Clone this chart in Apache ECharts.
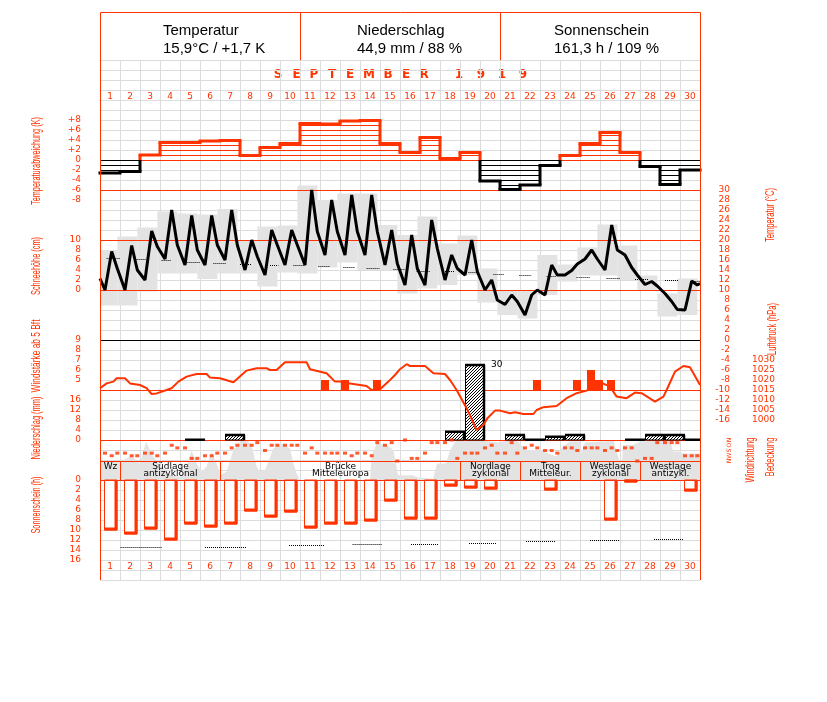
<!DOCTYPE html>
<html><head><meta charset="utf-8"><title>September 1919</title>
<script src="https://cdn.jsdelivr.net/npm/echarts@6.0.0/dist/echarts.min.js"></script>
<style>html,body{margin:0;padding:0;background:#fff;}#chart{width:827px;height:702px;}</style>
</head><body><div id="chart"></div>
<script>
// ================= DATA =================
const days = ['1','2','3','4','5','6','7','8','9','10','11','12','13','14','15','16','17','18','19','20','21','22','23','24','25','26','27','28','29','30'];
const headerTitles = ['Temperatur', 'Niederschlag', 'Sonnenschein'];
const headerValues = ['15,9°C / +1,7 K', '44,9 mm / 88 %', '161,3 h / 109 %'];
const monthTitle = ['S','E','P','T','E','M','B','E','R','1','9','1','9'];
// daily temperature anomaly (K)
const tempAnomaly = [-2.6,-2.3,1.0,3.5,3.5,3.8,3.9,0.9,2.5,3.3,7.3,7.2,7.8,7.9,3.3,1.5,4.5,0.3,1.5,-4.2,-5.9,-5.0,-1.1,0.9,3.3,5.5,1.5,-1.3,-4.9,-2.0];
// temperature at the three observation times of each day (°C)
const tempObs = [
 10.0,17.7,14.3, 10.0,18.9,14.0, 12.0,21.8,18.7, 16.2,26.0,19.0, 15.0,24.9,18.0,
 15.0,24.9,19.0, 16.0,26.0,19.0, 14.0,20.0,16.7, 13.0,22.0,19.0, 15.0,22.0,19.0,
 15.0,30.0,21.7, 17.0,28.0,21.7, 17.0,29.0,21.7, 17.0,29.0,21.7, 15.0,22.0,15.3,
 11.0,21.0,14.3, 11.0,24.0,18.3, 12.0,17.0,14.3, 13.0,20.0,13.7, 10.0,12.0,8.0,
 7.1,9.0,7.7, 5.0,9.0,10.0, 9.0,15.0,13.0, 13.0,13.9,15.2, 16.2,18.0,16.2,
 14.0,23.0,18.0, 17.0,14.5,13.0, 11.1,11.7,10.8, 9.3,7.7,6.1, 6.0,11.8,11.0];
const tempStart = 12.3, tempEnd = 11.3;
const tempMax = [18.0,20.7,22.5,25.7,25.3,25.1,26.2,20.0,22.7,22.9,30.9,28.0,29.3,29.3,23.0,21.0,24.7,19.3,20.9,14.3,9.8,9.8,17.0,15.1,18.5,23.1,18.9,12.9,9.3,12.3];
const tempMin = [6.9,6.9,9.7,13.3,13.3,12.2,13.3,13.3,10.7,13.5,13.3,14.5,15.5,14.0,14.0,9.3,10.3,11.0,13.0,7.5,5.0,4.3,9.0,11.7,12.9,12.9,12.0,10.0,4.7,5.0];
// normal temperature (start day, end day, °C)
const tempNormalSeg = [[0.33,1.0,16.5],[1.83,2.33,16.2],[3.08,3.58,16.0],[4.33,5.0,15.7],[5.67,6.3,15.5],[7.0,7.58,15.3],[8.5,8.92,15.1],[9.67,10.25,15.0],[10.92,11.5,14.8],[12.17,12.75,14.6],[13.33,13.97,14.4],[14.67,15.25,14.2],[15.83,16.5,13.9],[17.25,17.75,13.8],[18.42,18.92,13.6],[19.67,20.2,13.3],[20.97,21.58,13.1],[22.33,22.83,12.9],[23.83,24.5,12.7],[25.33,26.0,12.5],[26.75,27.42,12.3],[28.25,28.92,12.1],[29.67,30.0,11.9]];
// air pressure (hPa)
const pressureT = [0,0.33,0.67,0.83,1.25,1.5,2.0,2.33,2.58,2.83,3.33,3.58,3.92,4.33,4.83,5.33,5.5,6.0,6.67,7.33,7.83,8.33,8.5,8.83,9.25,10.33,10.5,11.33,11.75,12.0,12.42,13.33,13.58,14.0,14.42,14.75,15.0,15.33,15.5,16.25,16.67,17.25,17.5,17.83,18.33,18.83,19.17,19.37,19.75,20.0,20.5,20.75,21.17,21.67,21.83,22.17,22.83,23.33,23.83,24.33,25.0,25.5,25.83,26.33,26.75,27.08,27.75,28.17,28.33,28.75,29.17,29.5,30.0];
const pressureV = [1015.9,1018.3,1019.2,1020.9,1020.9,1018.3,1017.5,1015.9,1013.0,1013.3,1015.0,1015.9,1019.2,1021.7,1023.0,1023.0,1021.2,1020.9,1018.9,1024.7,1025.9,1025.9,1025.0,1025.0,1028.9,1028.9,1025.4,1023.4,1019.2,1019.2,1018.4,1017.0,1015.0,1015.4,1019.2,1022.5,1025.4,1027.9,1027.0,1027.0,1023.4,1023.0,1020.0,1015.0,1005.9,995.0,997.5,1000.9,1004.7,1004.7,1003.4,1003.9,1003.0,1003.0,1005.0,1006.4,1007.0,1010.9,1013.4,1014.7,1018.9,1016.7,1011.7,1010.9,1013.7,1013.4,1009.2,1011.7,1015.0,1024.2,1027.0,1026.4,1017.5];
// wind force >= 5 Bft (time, Bft)
const windForceT = [11.25,12.25,13.85,21.85,23.85,24.55,24.95,25.55];
const windForceV = [5,5,5,5,5,6,5,5];
// precipitation (mm, 7h to 7h)
const precipitation = [0,0,0,0,0.1,0,2.0,0,0,0,0,0,0,0,0,0,0,3.3,30,0,2.0,0.1,1.3,2.0,0,0,0.1,2.0,2.0,0.1];
// wind direction (degrees) at the three observation times
const windDirection = [
 225,270,225, 225,270,270, 225,225,270, 225,90,135, 135,315,315,
 270,270,225, 225,135,90, 90,90,45, 180,90,90, 90,90,90,
 225,135,225, 225,225,225, 225,270,225, 225,270,45, 90,45,360,
 0,315,315, 225,45,45, 45,0,315, 225,225,225, 135,90,225,
 225,45,225, 135,90,135, 180,180,225, 135,135,180, 135,135,135,
 180,135,180, 135,135,360, 315,315,45, 45,45,45, 270,270,270];
const windDirLabels = ['N','O','S','W','N'];
// cloud cover (octas)
const cloudT = [0,1.0,1.58,2.0,2.3,2.65,3.08,3.58,4.0,4.33,4.58,4.83,5.08,5.33,5.58,5.83,6.03,6.33,6.67,7.08,7.33,7.58,7.83,8.0,8.25,8.67,9.08,9.5,9.67,9.83,10.0,13.5,13.58,13.83,14.33,14.67,14.9,15.0,15.3,15.6,15.9,16.5,16.65,16.85,17.3,17.5,17.75,18.0,19.0,19.9,20.0,20.5,20.8,21.0,21.3,22.0,22.15,22.83,23.15,23.5,24.0,24.08,24.25,25.0,25.33,25.67,26.0,26.08,26.15,26.65,27.0,28.5,28.65,29.0,29.15,30];
const cloudV = [3.7,3.7,4.8,3.3,7.7,4.7,2.7,0.8,0.7,2.7,5.9,3.3,1.7,2.7,5.7,3.3,1.0,1.7,6.0,8.0,8.0,7.0,2.7,1.7,2.0,6.3,7.3,6.3,3.3,1.3,0,0,4.7,7.3,7.0,6.0,1.0,0.7,0.9,1.0,0.5,0.3,0.2,3.3,3.3,5.9,7.7,8,8,7.5,7.3,8,8,7.3,6,6,5.7,4.7,6.7,7.7,7.7,5.3,7.5,7.7,7.7,8,3.3,2.0,7,7,7.7,8,5.7,5.7,5.3,5.3];
// sunshine duration (h)
const sunshine = [9.9,10.8,9.8,11.9,8.8,9.4,8.8,6.1,7.4,6.3,9.6,8.8,8.8,8.1,4.2,7.8,7.8,1.1,1.6,1.8,0,0,2.0,0,0,7.9,0.4,0,0,2.2];
const sunNormalSeg = [[1.03,3.08,13.4],[5.25,7.3,13.4],[9.45,11.2,13.0],[12.63,14.1,12.8],[15.55,16.9,12.7],[18.45,19.8,12.5],[21.3,22.8,12.1],[24.5,26.0,12.0],[27.7,29.2,11.8]];
// weather types (first day, last day, text)
const weatherTypes = [[1,1,'Wz',''],[2,6,'Südlage','antizyklonal'],[7,18,'Brücke','Mitteleuropa'],[19,21,'Nordlage','zyklonal'],[22,24,'Trog','Mitteleur.'],[25,27,'Westlage','zyklonal'],[28,30,'Westlage','antizykl.']];

// ================= STYLE =================
const RED = '#ff3300', BLACK = '#000000', GRIDC = '#dcdcdc', SHADE = '#e3e3e3';
const NUMFONT = '"DejaVu Sans", Verdana, sans-serif';
const obsFrac = [0.25, 0.585, 0.865];

const chart = echarts.init(document.getElementById('chart'), null, {renderer: 'canvas'});

const grids = [
  {top: 60, height: 520},  // 0 background grid
  {top: 110, height: 90},  // 1 anomaly
  {top: 190, height: 250}, // 2 temperature / snow / pressure
  {top: 340, height: 100}, // 3 precipitation / wind force
  {top: 440, height: 21},  // 4 wind direction
  {top: 440, height: 40},  // 5 cloud cover
  {top: 480, height: 100}, // 6 sunshine
  {top: 85, height: 5},    // 7 top day labels
  {top: 555, height: 5},   // 8 bottom day labels
  {top: 461, height: 19}   // 9 weather types
].map(g => Object.assign({left: 100, width: 600}, g));

const xAxis = grids.map((g, i) => ({type: 'value', gridIndex: i, min: 0, max: 30, show: false}));
xAxis[0] = {type: 'value', gridIndex: 0, min: 0, max: 30, interval: 1, axisLine: {show: false}, axisTick: {show: false}, axisLabel: {show: false}, splitLine: {show: true, lineStyle: {color: GRIDC, width: 1}}};
const dayAxis = gi => ({type: 'category', gridIndex: gi, data: days, boundaryGap: true, axisLine: {show: false}, axisTick: {show: false}, splitLine: {show: false}, axisLabel: {interval: 0, color: RED, fontSize: 9, fontFamily: NUMFONT, margin: 2}});
xAxis[7] = dayAxis(7);
xAxis[8] = dayAxis(8);

function yA(gi, pos, min, max, interval, fmt, extra, lab) {
  return Object.assign({type: 'value', gridIndex: gi, position: pos, min, max, interval,
    axisLine: {show: false}, axisTick: {show: false}, splitLine: {show: false},
    axisLabel: Object.assign({show: !!fmt, formatter: fmt, color: RED, fontSize: 9, fontFamily: NUMFONT, margin: 19, showMinLabel: true, showMaxLabel: true}, lab || {})}, extra || {});
}
const yAxis = [
  Object.assign(yA(0, 'left', 0, 52, 1, null), {splitLine: {show: true, lineStyle: {color: GRIDC, width: 1}}}), // 0
  yA(1, 'left', -8, 10, 2, v => (v >= -8 && v <= 8) ? (v > 0 ? '+' + v : String(v)) : ''),              // 1 anomaly
  yA(2, 'right', -20, 30, 2, v => v >= -16 ? String(v) : '', null, {align: 'right', margin: 30}),       // 2 temperature
  yA(2, 'left', -30, 20, 2, v => (v >= 0 && v <= 10) ? String(v) : ''),                                 // 3 snow
  yA(2, 'right', 990, 1115, 5, v => (v >= 1000 && v <= 1030) ? String(v) : '', null, {align: 'right', margin: 75}), // 4 pressure
  yA(3, 'left', 0, 40, 4, v => v <= 16 ? String(v) : ''),                                                // 5 precipitation
  yA(3, 'left', -1, 9, 1, v => v >= 5 ? String(v) : ''),                                                 // 6 wind force
  yA(4, 'right', 0, 360, 90, v => windDirLabels[Math.round(v / 90)], {inverse: true}, {fontSize: 6, margin: 26, rotate: 90}), // 7 wind dir
  yA(5, 'left', 0, 8, 1, null),                                                                          // 8 cloud
  yA(6, 'left', 0, 20, 2, v => v <= 16 ? String(v) : '', {inverse: true}),                               // 9 sunshine
  yA(7, 'left', 0, 1, 1, null),                                                                          // 10
  yA(8, 'left', 0, 1, 1, null),                                                                          // 11
  yA(9, 'left', 0, 1, 1, null)                                                                           // 12 weather row
];

const series = [];
function refLines(xi, yi, vals, colors) {
  series.push({type: 'custom', xAxisIndex: xi, yAxisIndex: yi, z: 4, silent: true,
    data: vals.map(v => [0, v]),
    renderItem: (p, api) => {
      const cs = p.coordSys;
      const y = Math.round(api.coord([0, api.value(1)])[1]) + 0.5;
      return {type: 'line', shape: {x1: cs.x, y1: y, x2: cs.x + cs.width, y2: y}, style: {stroke: colors[p.dataIndex], lineWidth: 1}};
    }});
}

// --- anomaly
series.push({type: 'custom', xAxisIndex: 1, yAxisIndex: 1, z: 5, silent: true,
  data: tempAnomaly.map((v, i) => [i, v]),
  renderItem: (p, api) => {
    const i = api.value(0), v = api.value(1);
    const pv = p.dataIndex > 0 ? tempAnomaly[p.dataIndex - 1] : v;
    const x0 = api.coord([i, 0])[0], x1 = api.coord([i + 1, 0])[0];
    const Y = val => api.coord([i, val])[1];
    const col = v >= 0 ? RED : BLACK;
    const ch = [];
    const n = Math.floor(Math.abs(v));
    const sg = v >= 0 ? 1 : -1;
    for (let k = 0; k <= n; k++) {
      const y = Math.round(Y(sg * k)) + 0.5;
      ch.push({type: 'line', shape: {x1: x0, y1: y, x2: x1, y2: y}, style: {stroke: col, lineWidth: 1}});
    }
    const yt = Y(v);
    ch.push({type: 'line', shape: {x1: x0 - 1.5, y1: yt, x2: x1 + 1.5, y2: yt}, style: {stroke: col, lineWidth: 3}});
    if (p.dataIndex > 0) {
      const a = Math.min(pv, v), b = Math.max(pv, v);
      if (b > 0) ch.push({type: 'line', shape: {x1: x0, y1: Y(Math.max(a, 0)), x2: x0, y2: Y(b)}, style: {stroke: RED, lineWidth: 3}});
      if (a < 0) ch.push({type: 'line', shape: {x1: x0, y1: Y(a), x2: x0, y2: Y(Math.min(b, 0))}, style: {stroke: BLACK, lineWidth: 3}});
    }
    return {type: 'group', children: ch};
  }});

// --- temperature range boxes
series.push({type: 'custom', xAxisIndex: 2, yAxisIndex: 2, z: 1, silent: true,
  data: tempMax.map((mx, i) => [i, tempMin[i], mx]),
  renderItem: (p, api) => {
    const cs = p.coordSys;
    const i = api.value(0);
    let x0 = api.coord([i - 0.13, 0])[0], x1 = api.coord([i + 0.87, 0])[0];
    x0 = Math.max(x0, cs.x); x1 = Math.min(x1, cs.x + cs.width);
    const yb = api.coord([0, api.value(1)])[1], yt = api.coord([0, api.value(2)])[1];
    return {type: 'rect', shape: {x: x0, y: yt, width: x1 - x0, height: yb - yt}, style: {fill: SHADE}};
  }});

// --- normal temperature (dotted)
series.push({type: 'custom', xAxisIndex: 2, yAxisIndex: 2, z: 3, silent: true,
  data: tempNormalSeg,
  renderItem: (p, api) => {
    const a = api.coord([api.value(0), api.value(2)]), b = api.coord([api.value(1), api.value(2)]);
    const y = Math.round(a[1]) + 0.5;
    return {type: 'line', shape: {x1: a[0], y1: y, x2: b[0], y2: y}, style: {stroke: BLACK, lineWidth: 1, lineDash: [1, 1]}};
  }});

// --- reference lines
refLines(2, 2, [30, 20, 10, 0], [RED, RED, RED, BLACK]);
refLines(3, 6, [4], [RED]);
refLines(3, 5, [0], [RED]);

// --- temperature line
const tempData = [[0, tempStart]].concat(tempObs.map((v, k) => [Math.floor(k / 3) + obsFrac[k % 3], v])).concat([[30, tempEnd]]);
series.push({type: 'line', xAxisIndex: 2, yAxisIndex: 2, z: 6, silent: true, data: tempData, showSymbol: false, symbol: 'none',
  lineStyle: {color: BLACK, width: 3}});

// --- pressure line
series.push({type: 'line', xAxisIndex: 2, yAxisIndex: 4, z: 7, silent: true, data: pressureT.map((t, k) => [t, pressureV[k]]), showSymbol: false, symbol: 'none',
  lineStyle: {color: RED, width: 2}, clip: false});

// --- wind force bars
series.push({type: 'custom', xAxisIndex: 3, yAxisIndex: 6, z: 5, silent: true,
  data: windForceT.map((t, k) => [t, windForceV[k]]),
  renderItem: (p, api) => {
    const t = api.value(0), v = api.value(1);
    const a = api.coord([t - 0.2, v]), b = api.coord([t + 0.2, 4]);
    return {type: 'rect', shape: {x: a[0], y: a[1], width: b[0] - a[0], height: b[1] - a[1]}, style: {fill: RED}};
  }});

// --- precipitation bars
const hatchCanvas = (() => {
  const c = document.createElement('canvas'); c.width = 3; c.height = 3;
  const g = c.getContext('2d'); g.fillStyle = '#fff'; g.fillRect(0, 0, 3, 3); g.fillStyle = '#000';
  for (let k = 0; k < 3; k++) g.fillRect(k, 2 - k, 1, 1);
  return c;
})();
series.push({type: 'custom', xAxisIndex: 3, yAxisIndex: 5, z: 5, silent: true,
  data: precipitation.map((v, i) => [i, v]),
  renderItem: (p, api) => {
    const cs = p.coordSys;
    const i = api.value(0), v = api.value(1);
    if (!(v > 0)) return null;
    const x0 = api.coord([i + 0.25, 0])[0];
    let x1 = api.coord([i + 1.25, 0])[0];
    const clipped = x1 > cs.x + cs.width;
    x1 = Math.min(x1, cs.x + cs.width);
    const y0 = api.coord([0, 0])[1], y1 = api.coord([0, v])[1];
    const ch = [
      {type: 'rect', shape: {x: x0 + 0.5, y: y1, width: x1 - x0 - 1, height: y0 - y1}, style: {fill: {image: hatchCanvas, repeat: 'repeat'}, stroke: BLACK, lineWidth: 1}},
      {type: 'line', shape: {x1: x0, y1: y1, x2: x1, y2: y1}, style: {stroke: BLACK, lineWidth: 2.5}}
    ];
    if (!clipped) ch.push({type: 'line', shape: {x1: x1 - 1, y1: y1, x2: x1 - 1, y2: y0}, style: {stroke: BLACK, lineWidth: 2.5}});
    if (v > 16) ch.push({type: 'text', x: x1 + 6, y: y1, style: {text: String(v), fill: BLACK, font: '9px ' + NUMFONT, align: 'left', textAlign: 'left', verticalAlign: 'middle', textVerticalAlign: 'middle'}});
    return {type: 'group', children: ch};
  }});

// --- cloud cover area
series.push({type: 'line', xAxisIndex: 5, yAxisIndex: 8, z: 1, silent: true, data: cloudT.map((t, k) => [t, cloudV[k]]), showSymbol: false, symbol: 'none',
  lineStyle: {width: 0, color: SHADE}, areaStyle: {color: SHADE, opacity: 1}});

// --- wind direction dots
series.push({type: 'scatter', xAxisIndex: 4, yAxisIndex: 7, z: 7, silent: true,
  data: windDirection.map((d, k) => [Math.floor(k / 3) + obsFrac[k % 3], d]),
  symbol: 'rect', symbolSize: [4, 3], itemStyle: {color: RED}});

// --- weather types row
series.push({type: 'custom', xAxisIndex: 9, yAxisIndex: 12, z: 6, silent: true,
  data: weatherTypes.map(w => [w[0] - 1, w[1]]),
  renderItem: (p, api) => {
    const cs = p.coordSys;
    const w = weatherTypes[p.dataIndex];
    const x0 = Math.round(api.coord([api.value(0), 0])[0]) + 0.5, x1 = Math.round(api.coord([api.value(1), 0])[0]) + 0.5;
    const yt = cs.y + 0.5, yb = cs.y + cs.height + 0.5;
    const cx = (x0 + x1) / 2;
    const f = '9px ' + NUMFONT;
    const ch = [{type: 'rect', shape: {x: x0, y: yt, width: x1 - x0, height: yb - yt}, style: {fill: 'none', stroke: RED, lineWidth: 1}}];
    ch.push({type: 'text', x: cx, y: cs.y + 5.5, style: {text: w[2], fill: BLACK, font: f, align: 'center', textAlign: 'center', verticalAlign: 'middle', textVerticalAlign: 'middle'}});
    if (w[3]) ch.push({type: 'text', x: cx, y: cs.y + 13, style: {text: w[3], fill: BLACK, font: f, align: 'center', textAlign: 'center', verticalAlign: 'middle', textVerticalAlign: 'middle'}});
    return {type: 'group', children: ch};
  }});

// --- sunshine bars
series.push({type: 'custom', xAxisIndex: 6, yAxisIndex: 9, z: 5, silent: true,
  data: sunshine.map((v, i) => [i, v]),
  renderItem: (p, api) => {
    const i = api.value(0), v = api.value(1);
    if (!(v > 0)) return null;
    const x0 = Math.round(api.coord([i + 0.2, 0])[0]) + 0.5, x1 = Math.round(api.coord([i + 0.835, 0])[0]);
    const y0 = api.coord([0, 0])[1], y1 = Math.round(api.coord([0, v])[1]);
    return {type: 'group', children: [
      {type: 'rect', shape: {x: x0, y: y0, width: x1 - x0, height: y1 - y0}, style: {fill: '#fff', stroke: RED, lineWidth: 1}},
      {type: 'line', shape: {x1: x1 - 1, y1: y0, x2: x1 - 1, y2: y1}, style: {stroke: RED, lineWidth: 3}},
      {type: 'line', shape: {x1: x0, y1: y1 - 1, x2: x1, y2: y1 - 1}, style: {stroke: RED, lineWidth: 3}}
    ]};
  }});

// --- sunshine normal (dotted)
series.push({type: 'custom', xAxisIndex: 6, yAxisIndex: 9, z: 4, silent: true,
  data: sunNormalSeg,
  renderItem: (p, api) => {
    const a = api.coord([api.value(0), api.value(2)]), b = api.coord([api.value(1), api.value(2)]);
    const y = Math.round(a[1]) + 0.5;
    return {type: 'line', shape: {x1: a[0], y1: y, x2: b[0], y2: y}, style: {stroke: BLACK, lineWidth: 1, lineDash: [1, 1]}};
  }});

// ================= GRAPHIC (frame, header, titles) =================
const mctx = document.createElement('canvas').getContext('2d');
const TITLEFONT = '"Liberation Sans", Arial, sans-serif';
function vTitle(str, cx, cy, len, size) {
  mctx.font = size + 'px ' + TITLEFONT;
  const w = mctx.measureText(str).width;
  return {type: 'text', x: cx, y: cy, rotation: Math.PI / 2, scaleX: len / w, silent: true,
    style: {text: str, fill: RED, font: size + 'px ' + TITLEFONT, align: 'center', textAlign: 'center', verticalAlign: 'middle', textVerticalAlign: 'middle'}};
}
const g = [];
g.push({type: 'rect', shape: {x: 100.5, y: 12.5, width: 600, height: 48}, style: {fill: '#fff', stroke: RED, lineWidth: 1}, silent: true});
[300.5, 500.5].forEach(x => g.push({type: 'line', shape: {x1: x, y1: 12.5, x2: x, y2: 60.5}, style: {stroke: RED, lineWidth: 1}, silent: true}));
const headLeft = [163, 357, 554];
headerTitles.forEach((t, k) => {
  g.push({type: 'text', x: headLeft[k], y: 31, silent: true, style: {text: t, fill: BLACK, font: '15px ' + TITLEFONT, align: 'left', textAlign: 'left', verticalAlign: 'middle', textVerticalAlign: 'middle'}});
  g.push({type: 'text', x: headLeft[k], y: 49, silent: true, style: {text: headerValues[k], fill: BLACK, font: '15px ' + TITLEFONT, align: 'left', textAlign: 'left', verticalAlign: 'middle', textVerticalAlign: 'middle'}});
});
[100.5, 700.5].forEach(x => g.push({type: 'line', shape: {x1: x, y1: 60, x2: x, y2: 580}, style: {stroke: RED, lineWidth: 1}, silent: true, z: 10}));
const monthX = [278, 296.5, 314, 332, 350, 369, 388, 406, 424, 459, 481, 502, 523];
monthTitle.forEach((c, k) => g.push({type: 'text', x: monthX[k], y: 75, silent: true,
  style: {text: c, fill: RED, font: 'bold 12px ' + NUMFONT, align: 'center', textAlign: 'center', verticalAlign: 'middle', textVerticalAlign: 'middle'}}));
g.push(vTitle('Temperaturabweichung (K)', 36, 161, 88, 13));
g.push(vTitle('Schneehöhe (cm)', 36, 266, 58, 13));
g.push(vTitle('Windstärke ab 5 Bft', 36, 356, 73, 13));
g.push(vTitle('Niederschlag (mm)', 36, 428, 63, 13));
g.push(vTitle('Sonnenschein (h)', 36, 505, 57, 13));
g.push(vTitle('Temperatur (°C)', 770, 215, 54, 13));
g.push(vTitle('Luftdruck (hPa)', 772, 329, 52, 13));
g.push(vTitle('Windrichtung', 750, 460, 45, 13));
g.push(vTitle('Bedeckung', 770, 457, 39, 13));

chart.setOption({
  animation: false,
  backgroundColor: '#fff',
  grid: grids, xAxis, yAxis, series,
  graphic: {elements: g}
});
</script></body></html>
